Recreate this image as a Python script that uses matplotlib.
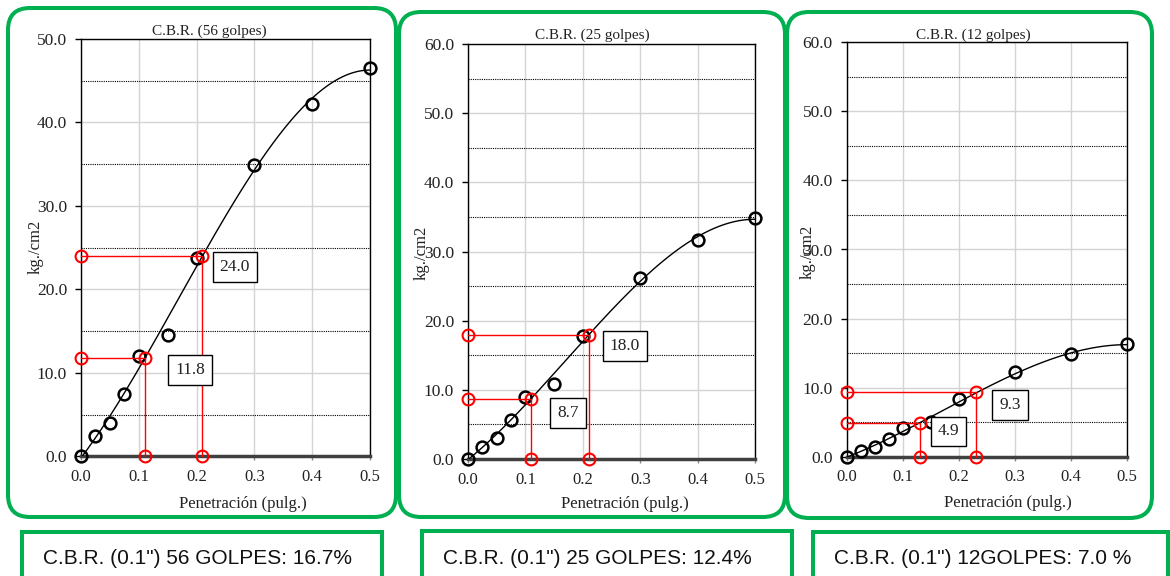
import numpy as np
import matplotlib
matplotlib.use("Agg")
import matplotlib.pyplot as plt
from matplotlib.patches import FancyBboxPatch, Rectangle
from matplotlib.ticker import MultipleLocator, FormatStrFormatter

# ---- data -------------------------------------------------------------
penetration = [0.0, 0.025, 0.05, 0.075, 0.1, 0.15, 0.2, 0.3, 0.4, 0.5]
load_56 = [0.0, 2.4, 4.0, 7.5, 12.0, 14.5, 23.8, 34.9, 42.2, 46.5]
load_25 = [0.0, 1.8, 3.1, 5.6, 9.0, 10.8, 17.8, 26.1, 31.7, 34.8]
load_12 = [0.0, 0.8, 1.4, 2.6, 4.2, 5.0, 8.3, 12.2, 14.8, 16.3]

read_x_56 = [0.11, 0.21]
read_y_56 = [11.8, 24.0]
read_x_25 = [0.11, 0.21]
read_y_25 = [8.7, 18.0]
read_x_12 = [0.13, 0.23]
read_y_12 = [4.9, 9.3]

titles = ["C.B.R. (56 golpes)", "C.B.R. (25 golpes)", "C.B.R. (12 golpes)"]
y_max = [50, 60, 60]
summaries = ['C.B.R. (0.1") 56 GOLPES: 16.7%',
             'C.B.R. (0.1") 25 GOLPES: 12.4%',
             'C.B.R. (0.1") 12GOLPES: 7.0 %']
xlabel = "Penetración (pulg.)"
ylabel = "kg./cm2"

# ---- layout (pixels, figure is 1170 x 576) -----------------------------
W, H = 1170, 576
axes_px = [(81, 370, 39, 456.3), (468, 755.3, 44, 459), (846.7, 1127.3, 42.3, 456.7)]
panel_px = [(8, 396, 8, 517), (399, 785, 12, 517), (787, 1152, 12, 518)]
summary_px = [(22, 382, 531.7), (422, 792, 530.5), (813, 1168, 531.7)]
title_pos = [(209.7, 35), (592.5, 39.3), (973, 39.3)]
xlabel_pos = [(243, 508.3), (625, 507.7), (1008, 506.7)]
ylabel_pos = [(36, 247), (422, 253), (807.5, 252)]
label_pos = [[(0.189, 10.35), (0.266, 22.7)],
             [(0.174, 6.7), (0.273, 16.4)],
             [(0.181, 3.65), (0.291, 7.5)]]

GREEN = "#00B050"
SERIF = "Liberation Serif"
SANS = "Liberation Sans"

fig = plt.figure(figsize=(W / 100, H / 100), dpi=100)
fig.patch.set_facecolor("white")

series = [
    (load_56, read_x_56, read_y_56),
    (load_25, read_x_25, read_y_25),
    (load_12, read_x_12, read_y_12),
]

for i, (loads, rx, ry) in enumerate(series):
    x0, x1, y0, y1 = axes_px[i]
    ax = fig.add_axes([x0 / W, 1 - y1 / H, (x1 - x0) / W, (y1 - y0) / H])
    ax.set_xlim(0, 0.5)
    ax.set_ylim(0, y_max[i])

    # grid: solid light grey on majors, dotted black halfway lines
    ax.xaxis.set_major_locator(MultipleLocator(0.1))
    ax.yaxis.set_major_locator(MultipleLocator(10))
    ax.yaxis.set_minor_locator(MultipleLocator(5))
    ax.xaxis.set_major_formatter(FormatStrFormatter("%.1f"))
    ax.yaxis.set_major_formatter(FormatStrFormatter("%.1f"))
    ax.grid(which="major", color="#d4d4d4", lw=1.0, zorder=0)
    for yv in np.arange(5, y_max[i], 10):
        ax.axhline(yv, color="black", lw=0.8, ls=(0, (1, 1)), zorder=1)
    ax.set_axisbelow(True)
    ax.tick_params(which="minor", length=0)
    ax.tick_params(axis="y", which="major", direction="out", length=4,
                   width=1, pad=6, labelsize=12.5, labelcolor="#222222")
    ax.tick_params(axis="x", which="major", direction="out", length=3,
                   width=1, color="#888888", pad=6, labelsize=12,
                   labelcolor="#222222")
    for lab in ax.get_xticklabels() + ax.get_yticklabels():
        lab.set_fontfamily(SERIF)

    for side in ("left", "right", "top"):
        ax.spines[side].set_color("black")
        ax.spines[side].set_linewidth(1.0)
    ax.spines["bottom"].set_color("#404040")
    ax.spines["bottom"].set_linewidth(2.5)

    # cubic trend line through the measured points
    coef = np.polyfit(penetration, loads, 3)
    xs = np.linspace(0, 0.5, 300)
    ax.plot(xs, np.polyval(coef, xs), color="black", lw=1.0, zorder=3)

    ax.plot(penetration, loads, ls="none", marker="o", ms=8.5, mfc="none",
            mec="black", mew=1.8, zorder=4, clip_on=False)

    # reading lines for 0.1" and 0.2" values
    for k, (px, py) in enumerate(zip(rx, ry)):
        ax.plot([0, px, px], [py, py, 0], color="red", lw=1.0, zorder=5,
                clip_on=False)
        ax.plot([0, px, px], [py, py, 0], ls="none", marker="o", ms=8.5,
                mfc="none", mec="red", mew=1.5, zorder=6, clip_on=False)
        lx, ly = label_pos[i][k]
        ax.text(lx, ly, f"{py:.1f}", ha="center", va="center",
                fontsize=12.5, family=SERIF, color="#222222", zorder=7,
                bbox=dict(boxstyle="square,pad=0.4", fc="white",
                          ec="black", lw=1.0))

# overlay in pixel coordinates for frames and captions
ov = fig.add_axes([0, 0, 1, 1])
ov.set_xlim(0, W)
ov.set_ylim(H, 0)
ov.axis("off")
ov.patch.set_visible(False)

for i in range(3):
    px0, px1, py0, py1 = panel_px[i]
    ov.add_patch(FancyBboxPatch((px0, py0), px1 - px0, py1 - py0,
                                boxstyle="round,pad=0,rounding_size=22",
                                fc="none", ec=GREEN, lw=2.9))
    sx0, sx1, sy0 = summary_px[i]
    ov.add_patch(Rectangle((sx0, sy0), sx1 - sx0, 80, fc="white", ec=GREEN,
                           lw=2.9, clip_on=False))
    ov.text(sx0 + 21, 564, summaries[i], ha="left", va="baseline",
            fontsize=15, family=SANS, color="#111111")

    tx, ty = title_pos[i]
    ov.text(tx, ty, titles[i], ha="center", va="baseline", fontsize=11,
            family=SERIF, color="#222222")
    lx, ly = xlabel_pos[i]
    ov.text(lx, ly, xlabel, ha="center", va="baseline", fontsize=12,
            family=SERIF, color="#222222")
    yx, yy = ylabel_pos[i]
    ov.text(yx, yy, ylabel, ha="center", va="center", rotation=90,
            fontsize=12, family=SERIF, color="#222222")

fig.savefig("out.png", dpi=100)
